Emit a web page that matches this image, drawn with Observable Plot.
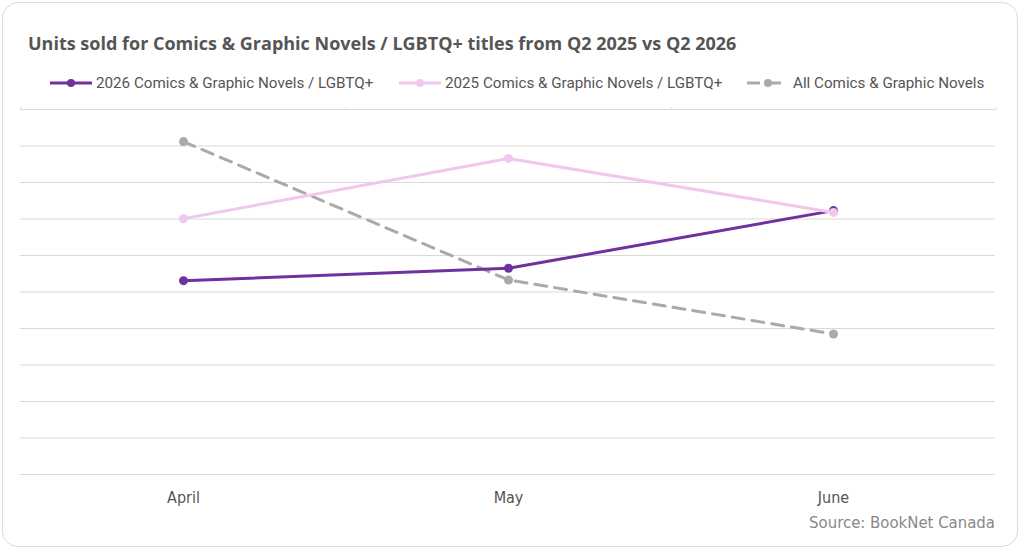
<!DOCTYPE html>
<html>
<head>
<meta charset="utf-8">
<script src="https://cdn.jsdelivr.net/npm/d3@7"></script>
<script src="https://cdn.jsdelivr.net/npm/@observablehq/plot@0.6"></script>
<style>
  html, body { margin: 0; padding: 0; background: #fff; width: 1024px; height: 553px; overflow: hidden; }
  #card { position: absolute; left: 2px; top: 2px; width: 1016px; height: 545px; border: 1px solid #dcdcdc; border-radius: 16px; box-sizing: border-box; }
  #title { position: absolute; left: 28px; top: 31px; font: bold 18px "Open Sans", Roboto, sans-serif; color: #555; white-space: nowrap; }
  #legend { position: absolute; left: 50px; top: 73px; height: 20px; font: 15.2px Roboto, "Open Sans", sans-serif; color: #555; white-space: nowrap; }
  .item { position: absolute; top: 0; display: flex; align-items: center; height: 20px; }
  .item svg { margin-right: 4px; }
  #chart { position: absolute; left: 0; top: 100px; }
  #source { position: absolute; right: 29px; top: 513px; font: 16.6px "DejaVu Sans Condensed", "Liberation Sans Narrow", sans-serif; color: #888; white-space: nowrap; }
</style>
</head>
<body>
<div id="card"></div>
<div id="title">Units sold for Comics &amp; Graphic Novels / LGBTQ+ titles from Q2 2025 vs Q2 2026</div>
<div id="legend"></div>
<div id="chart"></div>
<div id="source">Source: BookNet Canada</div>
<script>
// Data (relative units; the reference shows no y-axis labels)
const months = ["April", "May", "June"];
const seriesNames = ["2026 Comics & Graphic Novels / LGBTQ+", "2025 Comics & Graphic Novels / LGBTQ+", "All Comics & Graphic Novels"];
const values2026 = [531, 565, 723];
const values2025 = [701, 866, 718];
const valuesAll = [912, 533, 385];
const yTicks = [0, 100, 200, 300, 400, 500, 600, 700, 800, 900, 1000];
const colors = ["#7030a0", "#f0c8ec", "#aaaaaa"];
const dashes = [null, null, "12,8"];
const legendX = [0, 349, 697];

const allSeries = [values2026, values2025, valuesAll];
const rows = [];
allSeries.forEach((vals, s) => vals.forEach((v, i) => rows.push({series: seriesNames[s], month: months[i], value: v})));

// legend
const legend = document.getElementById("legend");
seriesNames.forEach((name, i) => {
  const div = document.createElement("div");
  div.className = "item";
  div.style.left = legendX[i] + "px";
  div.innerHTML = `<svg width="42" height="12"><line x1="0" x2="42" y1="6" y2="6" stroke="${colors[i]}" stroke-width="3" ${dashes[i] ? 'stroke-dasharray="13,8"' : ''}/><circle cx="21" cy="6" r="4" fill="${colors[i]}"/></svg><span>${name.replace(/&/g, "&amp;")}</span>`;
  legend.appendChild(div);
});

const lineMarks = seriesNames.map((name, i) => Plot.line(rows.filter(d => d.series === name), {
  x: "month", y: "value", stroke: colors[i], strokeWidth: 3, strokeDasharray: dashes[i] || undefined
}));
const dotMarks = seriesNames.map((name, i) => Plot.dot(rows.filter(d => d.series === name), {
  x: "month", y: "value", fill: colors[i], r: 4.5
}));

const chart = Plot.plot({
  width: 1024,
  height: 420,
  marginTop: 9,
  marginBottom: 46,
  marginLeft: 20,
  marginRight: 29,
  style: {background: "transparent", fontFamily: "'DejaVu Sans Condensed', 'Liberation Sans Narrow', sans-serif"},
  x: {type: "point", domain: months, padding: 0.5},
  y: {domain: [0, 1000]},
  marks: [
    Plot.gridY(yTicks, {stroke: "#d9d9d9", strokeOpacity: 1, strokeWidth: 1}),
    Plot.axisY({ticks: [], label: null}),
    Plot.axisX({anchor: "bottom", tickSize: 0, tickPadding: 17, fontSize: 16, fill: "#555", label: null}),
    Plot.axisX({anchor: "top", ticks: months, tickSize: 3, tickFormat: () => "", dx: -162.5, stroke: "#d9d9d9", label: null}),
    Plot.axisX({anchor: "top", ticks: ["June"], tickSize: 3, tickFormat: () => "", dx: 162.5, stroke: "#d9d9d9", label: null}),
    lineMarks[2], dotMarks[2],
    lineMarks[0], dotMarks[0],
    lineMarks[1], dotMarks[1]
  ]
});
document.getElementById("chart").appendChild(chart);
</script>
</body>
</html>
